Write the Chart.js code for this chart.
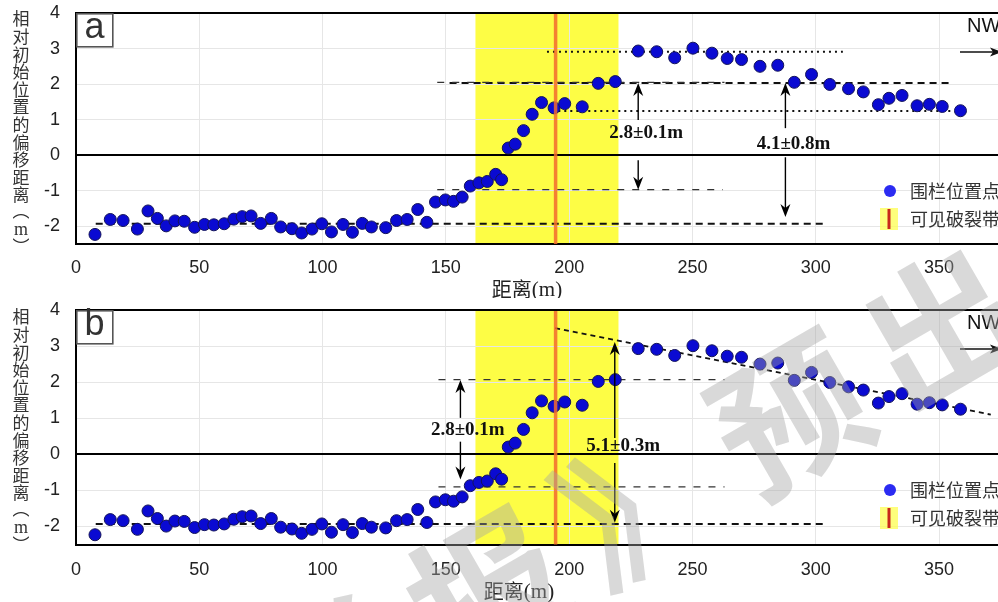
<!DOCTYPE html>
<html><head><meta charset="utf-8">
<script src="https://cdn.jsdelivr.net/npm/chart.js@4.4.1/dist/chart.umd.min.js"></script>
<style>
html,body{margin:0;padding:0;background:#fff;overflow:hidden;}
#wrap{position:relative;width:998px;height:602px;overflow:hidden;background:#fff;}
</style></head><body>
<div id="wrap">
<canvas id="cA" width="1020" height="298" style="position:absolute;left:0;top:0"></canvas>
<canvas id="cB" width="1020" height="304" style="position:absolute;left:0;top:298px"></canvas>
<canvas id="wm" width="998" height="602" style="position:absolute;left:0;top:0;pointer-events:none"></canvas>
</div>
<script>
// ---- data ----
const distance = [7.7,13.9,19.1,24.9,29.2,33.0,36.6,40.1,43.9,48.1,52.1,55.9,60.1,64.0,67.4,71.0,74.9,79.2,83.0,87.6,91.5,95.7,99.7,103.6,
108.3,112.1,116.1,119.8,125.6,130.0,134.3,138.6,142.3,145.8,149.8,153.1,156.6,159.9,163.4,166.8,170.2,172.6,175.3,178.1,181.5,185.0,188.8,193.9,198.2,205.3,211.8,218.7,
228.0,235.5,242.8,250.2,257.9,264.1,269.9,277.4,284.6,291.3,298.3,305.7,313.3,319.3,325.4,329.7,335.0,341.1,346.1,351.3,358.7];
const offset = [-2.23,-1.81,-1.84,-2.08,-1.57,-1.78,-1.99,-1.85,-1.86,-2.03,-1.95,-1.96,-1.93,-1.80,-1.73,-1.71,-1.92,-1.78,-2.02,-2.07,-2.19,-2.08,-1.93,-2.16,
-1.95,-2.17,-1.92,-2.02,-2.04,-1.84,-1.81,-1.53,-1.89,-1.32,-1.26,-1.30,-1.18,-0.87,-0.78,-0.74,-0.54,-0.69,0.20,0.31,0.69,1.15,1.48,1.33,1.45,1.36,2.02,2.07,
2.93,2.91,2.74,3.01,2.87,2.72,2.69,2.50,2.53,2.05,2.27,1.99,1.87,1.78,1.42,1.60,1.68,1.39,1.43,1.37,1.25];
const xTickValues = [0,50,100,150,200,250,300,350];
const yTickValues = [-2,-1,0,1,2,3,4];
const xRange = [0,380];
const yRange = [-2.5,4];
const rupture = [162,220];
const faultX = 194.5;
const yLabelChars = ['相','对','初','始','位','置','的','偏','移','距','离'];
const legendLabels = ['围栏位置点','可见破裂带'];

// reference lines: [x0,y0,x1,y1,style]
const linesA = [
  [8,-1.93,303.5,-1.93,'thick'],
  [146.5,-0.97,262.3,-0.97,'thin'],
  [146.5,2.05,263,2.05,'thin'],
  [151.5,2.03,354.6,2.03,'thick'],
  [191,2.91,311,2.91,'dot'],
  [195.6,1.24,356,1.24,'dot']
];
const linesB = [
  [8,-1.93,303.5,-1.93,'thick'],
  [147,-0.90,263,-0.90,'thin'],
  [147,2.07,263,2.07,'thin'],
  [194.3,3.50,371,1.10,'slope']
];
// arrows: [x, yFrom, yTip]
const arrowsA = [[228,0.99,2.03],[228,-0.14,-0.97],[287.7,0.76,2.03],[287.7,-0.06,-1.74]];
const arrowsB = [[155.9,1.01,2.06],[155.9,0.35,-0.70],[218.5,0.45,3.11],[218.5,-0.24,-1.90]];
const labelsA = [[231.2,0.62,'2.8±0.1m'],[291,0.31,'4.1±0.8m']];
const labelsB = [[158.9,0.67,'2.8±0.1m'],[221.9,0.23,'5.1±0.3m']];

const styles = {
  thick:{color:'#111',width:2,dash:[7,5]},
  thin:{color:'#333',width:1.3,dash:[7,8]},
  dot:{color:'#111',width:2,dash:[2,4]},
  slope:{color:'#111',width:1.8,dash:[5,4]}
};

function drawArrow(ctx,x,y0,y1){
  const dir = y1<y0?-1:1;
  const L=13,W=5,N=9;
  ctx.beginPath();ctx.moveTo(x,y0);ctx.lineTo(x,y1-dir*N);ctx.stroke();
  ctx.beginPath();
  ctx.moveTo(x,y1);ctx.lineTo(x-W,y1-dir*L);ctx.lineTo(x,y1-dir*N);ctx.lineTo(x+W,y1-dir*L);
  ctx.closePath();ctx.fill();
}

function makeChart(id,cfg){
  const datasets = [{
    type:'scatter',
    data: distance.map((x,i)=>({x:x,y:offset[i]})),
    backgroundColor:'#0a0ad2',borderColor:'#14145a',borderWidth:1,pointRadius:6,order:0
  }];
  cfg.lines.forEach(l=>{
    const s=styles[l[4]];
    datasets.push({type:'line',data:[{x:l[0],y:l[1]},{x:l[2],y:l[3]}],borderColor:s.color,borderWidth:s.width,
      borderDash:s.dash,pointRadius:0,fill:false,showLine:true,order:2,borderCapStyle:'butt'});
  });
  const annot = {
    id:'annot'+id,
    beforeDraw(chart){
      const {ctx,chartArea:a,scales:{x,y}}=chart;
      ctx.save();
      ctx.fillStyle='#fdfd45';
      const x0=x.getPixelForValue(rupture[0]),x1=x.getPixelForValue(rupture[1]);
      ctx.fillRect(x0,a.top,x1-x0,a.bottom-a.top);
      ctx.restore();
    },
    afterDatasetsDraw(chart){
      const {ctx,chartArea:a,scales:{x,y}}=chart;
      ctx.save();
      // fault line
      ctx.globalAlpha=0.85;
      ctx.strokeStyle='#f26b2e';ctx.lineWidth=3.5;
      const fx=x.getPixelForValue(faultX);
      ctx.beginPath();ctx.moveTo(fx,a.top);ctx.lineTo(fx,a.bottom);ctx.stroke();
      ctx.globalAlpha=1;
      // top border
      ctx.strokeStyle='#000';ctx.lineWidth=2;
      ctx.beginPath();ctx.moveTo(a.left,a.top);ctx.lineTo(a.right,a.top);ctx.stroke();
      // arrows
      ctx.strokeStyle='#000';ctx.fillStyle='#000';ctx.lineWidth=1.4;
      cfg.arrows.forEach(r=>drawArrow(ctx,x.getPixelForValue(r[0]),y.getPixelForValue(r[1]),y.getPixelForValue(r[2])));
      // labels
      ctx.font='bold 19px "Liberation Serif","Times New Roman",serif';
      ctx.textAlign='center';ctx.textBaseline='middle';ctx.fillStyle='#111';
      cfg.labels.forEach(l=>ctx.fillText(l[2],x.getPixelForValue(l[0]),y.getPixelForValue(l[1])));
      // panel letter box
      ctx.fillStyle='#fff';ctx.fillRect(a.left,a.top,37,34);
      ctx.strokeStyle='#555';ctx.lineWidth=1.6;ctx.strokeRect(a.left+0.8,a.top+0.8,36,33);
      ctx.fillStyle='#333';ctx.font='36px "Liberation Sans",Arial,sans-serif';
      ctx.textAlign='center';ctx.textBaseline='middle';
      ctx.fillText(cfg.letter,a.left+18.5,a.top+15);
      // NW arrow
      ctx.fillStyle='#111';ctx.font='20px "Liberation Sans",Arial,sans-serif';ctx.textAlign='left';
      ctx.fillText('NW',967,a.top+13);
      ctx.strokeStyle='#111';ctx.lineWidth=1.4;
      ctx.beginPath();ctx.moveTo(960,a.top+39);ctx.lineTo(994,a.top+39);ctx.stroke();
      ctx.beginPath();ctx.moveTo(1002,a.top+39);ctx.lineTo(990,a.top+34.5);ctx.lineTo(993,a.top+39);ctx.lineTo(990,a.top+43.5);ctx.closePath();ctx.fill();
      // legend
      ctx.fillStyle='#2b2bf2';
      ctx.beginPath();ctx.arc(890,cfg.legY,6,0,Math.PI*2);ctx.fill();
      ctx.fillStyle='rgba(253,253,80,0.75)';ctx.fillRect(880,cfg.legY+17,18,22);
      ctx.strokeStyle='#c8281a';ctx.lineWidth=3;
      ctx.beginPath();ctx.moveTo(889,cfg.legY+18);ctx.lineTo(889,cfg.legY+38);ctx.stroke();
      ctx.fillStyle='#333';ctx.font='18px "Noto Sans CJK SC",sans-serif';ctx.textAlign='left';ctx.textBaseline='middle';
      ctx.fillText(legendLabels[0],910,cfg.legY);
      ctx.fillText(legendLabels[1],910,cfg.legY+28);
      // y axis label (vertical)
      ctx.fillStyle='#333';ctx.textAlign='center';
      ctx.font='17px "Noto Sans CJK SC",sans-serif';
      yLabelChars.forEach((c,i)=>ctx.fillText(c,21,19+17.6*i));
      ctx.fillText('︵',21,211);
      ctx.font='18px "Liberation Serif","Times New Roman",serif';
      ctx.fillText('m',21,230);
      ctx.font='17px "Noto Sans CJK SC",sans-serif';
      ctx.fillText('︶',21,247);
      // x title
      ctx.font='20px "Noto Sans CJK SC",sans-serif';
      const w1=ctx.measureText('距离').width;
      ctx.font='21px "Liberation Serif","Times New Roman",serif';
      const w2=ctx.measureText('(m)').width;
      const sx=cfg.titleX-(w1+w2)/2;
      ctx.textAlign='left';ctx.fillStyle='#222';
      ctx.font='20px "Noto Sans CJK SC",sans-serif';ctx.fillText('距离',sx,cfg.titleY);
      ctx.font='21px "Liberation Serif","Times New Roman",serif';ctx.fillText('(m)',sx+w1,cfg.titleY+1);
      ctx.restore();
    }
  };
  return new Chart(document.getElementById(id),{
    type:'scatter',
    data:{datasets},
    options:{
      responsive:false,animation:false,
      layout:{padding:{left:0,right:4,top:cfg.top,bottom:0}},
      plugins:{legend:{display:false},tooltip:{enabled:false}},
      scales:{
        x:{type:'linear',min:xRange[0],max:xRange[1],
          afterBuildTicks(s){s.ticks=xTickValues.map(v=>({value:v}));},
          afterFit(s){s.height=cfg.xh;s.paddingLeft=0;s.paddingRight=0;},
          ticks:{font:{family:'"Liberation Sans",Arial,sans-serif',size:18},color:'#222',padding:cfg.xpad,maxRotation:0},
          grid:{color:'#e6e6e6',lineWidth:1,drawTicks:false},
          border:{color:'#000',width:2}},
        y:{type:'linear',min:yRange[0],max:yRange[1],
          afterBuildTicks(s){s.ticks=yTickValues.map(v=>({value:v}));},
          afterFit(s){s.width=76;s.paddingTop=0;s.paddingBottom=0;},
          ticks:{font:{family:'"Liberation Sans",Arial,sans-serif',size:18},color:'#222',padding:16},
          grid:{color:c=>(c.tick&&c.tick.value===0)?'#000':'#e6e6e6',lineWidth:c=>(c.tick&&c.tick.value===0)?2:1,drawTicks:false},
          border:{color:'#000',width:2}}
      }
    },
    plugins:[annot]
  });
}

makeChart('cA',{lines:linesA,arrows:arrowsA,labels:labelsA,letter:'a',top:13,xh:54,xpad:13,legY:191,titleX:527,titleY:289});
makeChart('cB',{lines:linesB,arrows:arrowsB,labels:labelsB,letter:'b',top:12,xh:57.5,xpad:14.5,legY:192,titleX:519,titleY:293});

// watermark
(function(){
  const c=document.getElementById('wm').getContext('2d');
  const chars=['学','报','》','预','出','版'];
  const ang=-30*Math.PI/180, step=175;
  c.fillStyle='rgba(165,165,165,0.42)';
  c.font='bold 150px "Noto Sans CJK SC",sans-serif';
  c.textAlign='center';c.textBaseline='middle';
  chars.forEach((ch,i)=>{
    const k=i-3;
    const cx=790+k*step*Math.cos(ang), cy=415+k*step*Math.sin(ang);
    c.save();c.translate(cx,cy);c.rotate(ang);c.fillText(ch,0,0);c.restore();
  });
})();
</script>
</body></html>
